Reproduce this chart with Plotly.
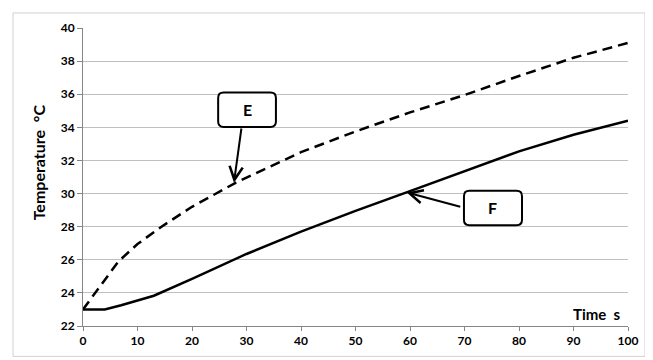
import plotly.graph_objects as go

# ---- data ----
E_time = [0, 2, 6.5, 10, 14.4, 20, 28, 40, 50, 60, 70, 80, 90, 100]
E_temp = [23.0, 23.9, 25.9, 26.95, 28.0, 29.2, 30.65, 32.5, 33.75, 34.9, 35.95, 37.1, 38.2, 39.1]

F_time = [0, 4, 7, 10, 13, 20, 30, 40, 50, 60, 70, 80, 90, 100]
F_temp = [23.0, 23.0, 23.25, 23.55, 23.83, 24.85, 26.35, 27.7, 28.95, 30.15, 31.35, 32.55, 33.55, 34.4]

x_ticks = [0, 10, 20, 30, 40, 50, 60, 70, 80, 90, 100]
y_ticks = [22, 24, 26, 28, 30, 32, 34, 36, 38, 40]

FONT = "Lato, 'Open Sans', sans-serif"

# page body has an 8px margin: figure origin sits at (8, 8)
OFF = 8
L, T = 83 - OFF, 24.3 - OFF
PW, PH = 545, 303.3
W, H = 653 - OFF, 360 - OFF

fig = go.Figure()
fig.add_trace(go.Scatter(x=E_time, y=E_temp, mode="lines",
                         line=dict(color="black", width=2.5, dash="10px,6px"),
                         showlegend=False, hoverinfo="skip"))
fig.add_trace(go.Scatter(x=F_time, y=F_temp, mode="lines",
                         line=dict(color="black", width=2.5),
                         showlegend=False, hoverinfo="skip"))


def rounded_box(x0, x1, y0, y1, rx=1.0, ry=0.33):
    return (f"M {x0+rx},{y0} L {x1-rx},{y0} Q {x1},{y0} {x1},{y0+ry} "
            f"L {x1},{y1-ry} Q {x1},{y1} {x1-rx},{y1} "
            f"L {x0+rx},{y1} Q {x0},{y1} {x0},{y1-ry} "
            f"L {x0},{y0+ry} Q {x0},{y0} {x0+rx},{y0} Z")


def px_x(px):
    return (px - 83) / PW


def px_y(py):
    return (327.6 - py) / PH


shapes = [
    dict(type="rect", xref="paper", yref="paper",
         x0=px_x(13), x1=px_x(645), y0=px_y(358.5), y1=px_y(9),
         line=dict(color="#d0d0d0", width=1), fillcolor="rgba(0,0,0,0)", layer="below"),
    dict(type="path", xref="x", yref="y", path=rounded_box(24.8, 35.4, 34.02, 36.1),
         line=dict(color="black", width=2), fillcolor="white"),
    dict(type="path", xref="x", yref="y", path=rounded_box(69.9, 80.55, 28.09, 30.17),
         line=dict(color="black", width=2), fillcolor="white"),
]

annotations = [
    dict(x=30.1, y=35.06, xref="x", yref="y", text="<b>E</b>", showarrow=False,
         font=dict(family=FONT, size=16, color="black")),
    dict(x=75.2, y=29.13, xref="x", yref="y", text="<b>F</b>", showarrow=False,
         font=dict(family=FONT, size=16, color="black")),
    dict(x=27.7, y=30.66, xref="x", yref="y", ax=29.1, ay=34.02, axref="x", ayref="y",
         text="", showarrow=True, arrowhead=5, arrowsize=1.3, arrowwidth=2,
         arrowcolor="black", standoff=0, startstandoff=0),
    dict(x=59.4, y=30.07, xref="x", yref="y", ax=69.5, ay=29.18, axref="x", ayref="y",
         text="", showarrow=True, arrowhead=5, arrowsize=1.3, arrowwidth=2,
         arrowcolor="black", standoff=0, startstandoff=0),
    dict(x=px_x(623), y=px_y(315), xref="paper", yref="paper",
         xanchor="right", yanchor="middle", text="<b>Time&nbsp;&nbsp;s</b>", showarrow=False,
         font=dict(family=FONT, size=15, color="black")),
    dict(x=px_x(38), y=px_y(161), xref="paper", yref="paper",
         xanchor="center", yanchor="middle", textangle=-90,
         text="<b>Temperature&nbsp;&nbsp;°C</b>", showarrow=False,
         font=dict(family=FONT, size=16, color="black")),
]

fig.update_layout(
    width=W, height=H,
    margin=dict(l=L, r=W - L - PW, t=T, b=H - T - PH, pad=0),
    paper_bgcolor="white", plot_bgcolor="white",
    shapes=shapes, annotations=annotations,
    font=dict(family=FONT, color="black"),
)
fig.update_xaxes(range=[0, 100], tickvals=x_ticks, ticktext=[f"<b>{v}</b>" for v in x_ticks],
                 showgrid=False, zeroline=False, showline=True, linecolor="#868686",
                 linewidth=1, ticks="outside", ticklen=4, tickcolor="#868686",
                 tickfont=dict(family=FONT, size=12, color="black"), fixedrange=True)
fig.update_yaxes(range=[22, 40], tickvals=y_ticks, ticktext=[f"<b>{v}</b>" for v in y_ticks],
                 showgrid=True, gridcolor="#bfbfbf", gridwidth=1, zeroline=False,
                 showline=True, linecolor="#868686", linewidth=1, ticks="outside",
                 ticklen=5, tickcolor="#868686",
                 tickfont=dict(family=FONT, size=12, color="black"), fixedrange=True)

fig.write_html("out.html")
